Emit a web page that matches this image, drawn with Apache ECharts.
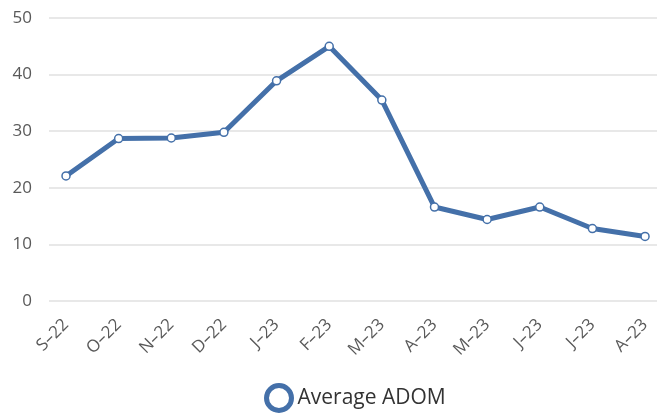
<!doctype html>
<html>
<head>
<meta charset="UTF-8">
<title>Average ADOM</title>
<style>
  html, body { margin: 0; padding: 0; background: #fff; }
  #main { width: 657px; height: 418px; }
</style>
</head>
<body>
<div id="main"></div>
<script src="https://cdn.jsdelivr.net/npm/echarts@6/dist/echarts.min.js"></script>
<script>
var months = ['S–22', 'O–22', 'N–22', 'D–22', 'J–23', 'F–23', 'M–23', 'A–23', 'M–23', 'J–23', 'J–23', 'A–23'];
var adom = [22.1, 28.7, 28.8, 29.8, 38.9, 45.0, 35.5, 16.6, 14.4, 16.6, 12.8, 11.4];
var yTicks = [0, 10, 20, 30, 40, 50];

var lineColor = '#4470a9';
var textColor = '#595959';
var font = '"Open Sans", sans-serif';

var chart = echarts.init(document.getElementById('main'));

chart.setOption({
    animation: false,
    grid: { left: 49, right: 0, top: 18, bottom: 117 },
    xAxis: {
        type: 'value',
        min: -0.323,
        max: 11.227,
        splitLine: { show: false },
        axisLine: { show: false },
        axisTick: { show: false },
        axisLabel: {
            customValues: months.map(function (m, i) { return i; }),
            formatter: function (v) { return months[Math.round(v)]; },
            rotate: 45,
            margin: 21,
            color: textColor,
            fontSize: 17,
            fontFamily: font
        }
    },
    yAxis: {
        type: 'value',
        min: yTicks[0],
        max: yTicks[yTicks.length - 1],
        interval: 10,
        axisLine: { show: false },
        axisTick: { show: false },
        axisLabel: {
            margin: 17,
            color: textColor,
            fontSize: 17,
            fontFamily: font
        },
        splitLine: { lineStyle: { color: '#e0e0e0', width: 1.5 } }
    },
    legend: {
        bottom: 0,
        left: 259,
        icon: 'circle',
        itemWidth: 25,
        itemHeight: 25,
        itemGap: 6,
        itemStyle: { color: '#fff', borderColor: lineColor, borderWidth: 5 },
        textStyle: { color: '#333', fontSize: 21, fontFamily: font, padding: [0, 0, 0, 1] }
    },
    series: [{
        name: 'Average ADOM',
        type: 'line',
        data: adom.map(function (v, i) { return [i, v]; }),
        symbol: 'circle',
        symbolSize: 8,
        lineStyle: { color: lineColor, width: 5 },
        itemStyle: { color: '#fff', borderColor: lineColor, borderWidth: 1.5 }
    }]
});
</script>
</body>
</html>
